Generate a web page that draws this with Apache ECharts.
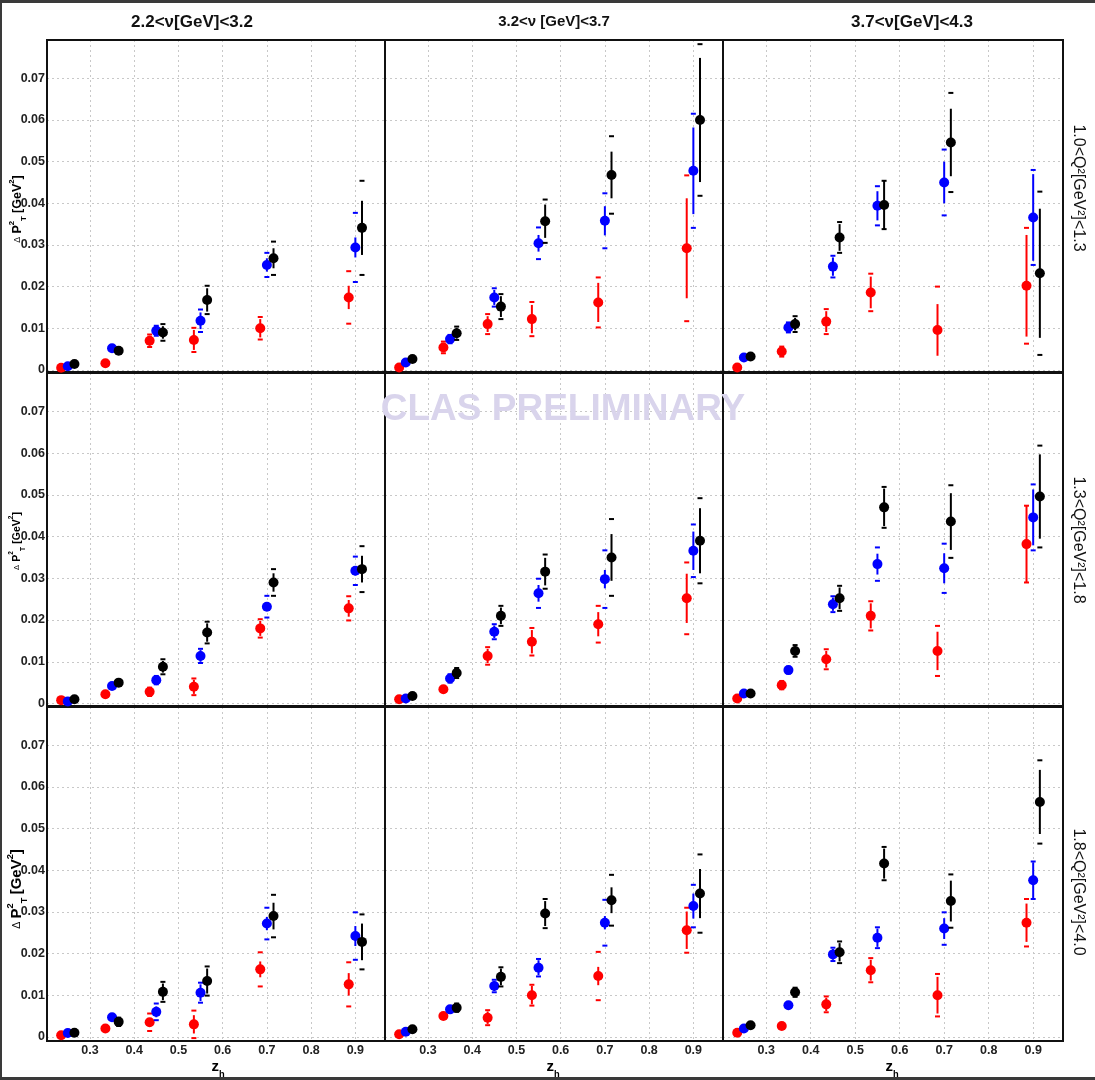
<!DOCTYPE html>
<html>
<head>
<meta charset="utf-8">
<title>CLAS pT broadening vs zh</title>
<script src="https://cdn.jsdelivr.net/npm/echarts@6/dist/echarts.min.js"></script>
<style>
  html, body { margin: 0; padding: 0; background: #fff; }
  #chart { width: 1095px; height: 1080px; }
</style>
</head>
<body>
<div id="chart"></div>
<script>
// bins and labels
const targets = ['C', 'Fe', 'Pb'];
const targetColors = ['#ff0000', '#0000ff', '#000000'];
const zBins = [0.25, 0.35, 0.45, 0.55, 0.70, 0.90];
const zShift = [-0.015, 0, 0.015];   // targets drawn side by side in each z bin
const nuLabels = ['2.2<ν[GeV]<3.2', '3.2<ν [GeV]<3.7', '3.7<ν[GeV]<4.3'];
const q2Labels = ['1.0<Q²[GeV²]<1.3', '1.3<Q²[GeV²]<1.8', '1.8<Q²[GeV²]<4.0'];
const xTicks = [0.3, 0.4, 0.5, 0.6, 0.7, 0.8, 0.9];
const yTicks = [0, 0.01, 0.02, 0.03, 0.04, 0.05, 0.06, 0.07];

// ΔPT² values, rows = [C, Fe, Pb], columns = zBins
// 1.0<Q2<1.3
const q1nu1 = [[0.0005, 0.0016, 0.0070, 0.0072, 0.0100, 0.0174], [0.0009, 0.0052, 0.0094, 0.0118, 0.0252, 0.0294], [0.0014, 0.0046, 0.0090, 0.0168, 0.0268, 0.0341]];
const q1nu1Stat = [[0.0003, 0.0005, 0.0012, 0.0024, 0.0022, 0.0028], [0.0003, 0.0005, 0.0010, 0.0020, 0.0016, 0.0024], [0.0003, 0.0006, 0.0015, 0.0028, 0.0024, 0.0065]];
const q1nu1Sys = [[0.0004, 0.0006, 0.0015, 0.0029, 0.0027, 0.0063], [0.0004, 0.0006, 0.0012, 0.0027, 0.0029, 0.0083], [0.0004, 0.0007, 0.0020, 0.0034, 0.0040, 0.0113]];

const q1nu2 = [[0.0006, 0.0054, 0.0110, 0.0122, 0.0162, 0.0292], [0.0018, 0.0074, 0.0174, 0.0304, 0.0358, 0.0478], [0.0026, 0.0088, 0.0152, 0.0357, 0.0468, 0.0600]];
const q1nu2Stat = [[0.0003, 0.0011, 0.0019, 0.0034, 0.0047, 0.0120], [0.0003, 0.0008, 0.0018, 0.0020, 0.0035, 0.0104], [0.0004, 0.0013, 0.0025, 0.0040, 0.0056, 0.0149]];
const q1nu2Sys = [[0.0004, 0.0014, 0.0024, 0.0041, 0.0060, 0.0175], [0.0004, 0.0010, 0.0022, 0.0038, 0.0066, 0.0137], [0.0005, 0.0016, 0.0030, 0.0052, 0.0093, 0.0182]];

const q1nu3 = [[0.0006, 0.0044, 0.0116, 0.0186, 0.0096, 0.0202], [0.0030, 0.0102, 0.0248, 0.0394, 0.0450, 0.0366], [0.0032, 0.0110, 0.0318, 0.0396, 0.0546, 0.0232]];
const q1nu3Stat = [[0.0003, 0.0010, 0.0025, 0.0038, 0.0062, 0.0122], [0.0003, 0.0010, 0.0022, 0.0035, 0.0050, 0.0104], [0.0004, 0.0015, 0.0032, 0.0058, 0.0081, 0.0155]];
const q1nu3Sys = [[0.0004, 0.0012, 0.0030, 0.0045, 0.0104, 0.0139], [0.0004, 0.0012, 0.0026, 0.0047, 0.0079, 0.0114], [0.0005, 0.0019, 0.0037, 0.0058, 0.0119, 0.0196]];

// 1.3<Q2<1.8
const q2nu1 = [[0.0008, 0.0022, 0.0028, 0.0040, 0.0180, 0.0228], [0.0005, 0.0042, 0.0056, 0.0114, 0.0232, 0.0318], [0.0010, 0.0050, 0.0088, 0.0170, 0.0290, 0.0322]];
const q2nu1Stat = [[0.0003, 0.0004, 0.0008, 0.0017, 0.0018, 0.0020], [0.0003, 0.0004, 0.0008, 0.0014, 0.0010, 0.0011], [0.0003, 0.0005, 0.0014, 0.0022, 0.0022, 0.0032]];
const q2nu1Sys = [[0.0004, 0.0005, 0.0010, 0.0020, 0.0022, 0.0029], [0.0004, 0.0005, 0.0010, 0.0017, 0.0026, 0.0034], [0.0004, 0.0006, 0.0018, 0.0026, 0.0032, 0.0055]];

const q2nu2 = [[0.0010, 0.0034, 0.0114, 0.0148, 0.0190, 0.0252], [0.0012, 0.0060, 0.0172, 0.0264, 0.0298, 0.0366], [0.0018, 0.0073, 0.0210, 0.0316, 0.0350, 0.0390]];
const q2nu2Stat = [[0.0003, 0.0005, 0.0017, 0.0028, 0.0029, 0.0059], [0.0003, 0.0008, 0.0015, 0.0020, 0.0022, 0.0046], [0.0003, 0.0010, 0.0020, 0.0033, 0.0056, 0.0078]];
const q2nu2Sys = [[0.0004, 0.0006, 0.0021, 0.0033, 0.0044, 0.0086], [0.0004, 0.0010, 0.0018, 0.0035, 0.0069, 0.0063], [0.0004, 0.0012, 0.0024, 0.0041, 0.0092, 0.0102]];

const q2nu3 = [[0.0012, 0.0044, 0.0106, 0.0210, 0.0126, 0.0382], [0.0024, 0.0080, 0.0238, 0.0334, 0.0324, 0.0446], [0.0024, 0.0126, 0.0252, 0.0470, 0.0436, 0.0496]];
const q2nu3Stat = [[0.0003, 0.0008, 0.0020, 0.0030, 0.0046, 0.0092], [0.0003, 0.0006, 0.0016, 0.0025, 0.0036, 0.0067], [0.0003, 0.0011, 0.0026, 0.0045, 0.0068, 0.0101]];
const q2nu3Sys = [[0.0004, 0.0010, 0.0024, 0.0035, 0.0060, 0.0092], [0.0004, 0.0008, 0.0019, 0.0040, 0.0059, 0.0079], [0.0004, 0.0014, 0.0030, 0.0049, 0.0087, 0.0122]];

// 1.8<Q2<4.0
const q3nu1 = [[0.0004, 0.0020, 0.0035, 0.0030, 0.0162, 0.0126], [0.0009, 0.0047, 0.0060, 0.0106, 0.0272, 0.0242], [0.0010, 0.0036, 0.0108, 0.0134, 0.0290, 0.0228]];
const q3nu1Stat = [[0.0003, 0.0004, 0.0010, 0.0022, 0.0019, 0.0027], [0.0003, 0.0004, 0.0013, 0.0020, 0.0016, 0.0024], [0.0003, 0.0008, 0.0020, 0.0030, 0.0032, 0.0044]];
const q3nu1Sys = [[0.0004, 0.0005, 0.0021, 0.0033, 0.0041, 0.0053], [0.0004, 0.0005, 0.0020, 0.0024, 0.0038, 0.0057], [0.0004, 0.0010, 0.0024, 0.0035, 0.0051, 0.0066]];

const q3nu2 = [[0.0006, 0.0050, 0.0046, 0.0100, 0.0146, 0.0256], [0.0012, 0.0066, 0.0122, 0.0166, 0.0274, 0.0314], [0.0018, 0.0070, 0.0144, 0.0296, 0.0328, 0.0344]];
const q3nu2Stat = [[0.0003, 0.0004, 0.0015, 0.0022, 0.0022, 0.0045], [0.0003, 0.0004, 0.0012, 0.0018, 0.0016, 0.0030], [0.0003, 0.0008, 0.0020, 0.0030, 0.0031, 0.0059]];
const q3nu2Sys = [[0.0004, 0.0005, 0.0018, 0.0025, 0.0058, 0.0054], [0.0004, 0.0005, 0.0015, 0.0021, 0.0055, 0.0051], [0.0004, 0.0010, 0.0023, 0.0035, 0.0061, 0.0094]];

const q3nu3 = [[0.0010, 0.0026, 0.0078, 0.0160, 0.0100, 0.0274], [0.0020, 0.0076, 0.0198, 0.0238, 0.0260, 0.0376], [0.0028, 0.0107, 0.0203, 0.0416, 0.0326, 0.0564]];
const q3nu3Stat = [[0.0003, 0.0004, 0.0016, 0.0025, 0.0044, 0.0046], [0.0003, 0.0004, 0.0013, 0.0022, 0.0025, 0.0043], [0.0003, 0.0009, 0.0022, 0.0036, 0.0049, 0.0077]];
const q3nu3Sys = [[0.0004, 0.0005, 0.0019, 0.0029, 0.0051, 0.0057], [0.0004, 0.0005, 0.0016, 0.0025, 0.0039, 0.0045], [0.0004, 0.0011, 0.0026, 0.0040, 0.0064, 0.0100]];

const panels = [
  [[q1nu1, q1nu1Stat, q1nu1Sys], [q1nu2, q1nu2Stat, q1nu2Sys], [q1nu3, q1nu3Stat, q1nu3Sys]],
  [[q2nu1, q2nu1Stat, q2nu1Sys], [q2nu2, q2nu2Stat, q2nu2Sys], [q2nu3, q2nu3Stat, q2nu3Sys]],
  [[q3nu1, q3nu1Stat, q3nu1Sys], [q3nu2, q3nu2Stat, q3nu2Sys], [q3nu3, q3nu3Stat, q3nu3Sys]]
];

// layout
const FONT = '"Liberation Sans", Arial, Helvetica, sans-serif';
const colLeft = [47, 385, 723];
const colWidth = [338, 338, 340];
const rowTop = [40, 373, 707];
const rowHeight = [332, 333, 334];
const rowYMin = [-0.0005, -0.0006, -0.001];

const chart = echarts.init(document.getElementById('chart'));

function near(v, list, scale) {
  const k = Math.round(v * scale);
  if (Math.abs(v * scale - k) > 1e-6) return null;
  return list.indexOf(k / scale) >= 0 ? k / scale : null;
}

// stat error as a line, systematic error as two short dashes, then the point
function renderPoint(params, api) {
  const x = api.value(0), y = api.value(1), st = api.value(2), sy = api.value(3);
  const cs = params.coordSys;
  const color = api.visual('color');
  const p = api.coord([x, y]);
  const top = cs.y, bot = cs.y + cs.height;
  const clampY = v => Math.max(top, Math.min(bot, v));
  const kids = [];
  kids.push({
    type: 'line',
    shape: { x1: p[0], y1: clampY(api.coord([x, y + st])[1]), x2: p[0], y2: clampY(api.coord([x, y - st])[1]) },
    style: { stroke: color, lineWidth: 2 }
  });
  [y + sy, y - sy].forEach(v => {
    const py = api.coord([x, v])[1];
    if (py >= top && py <= bot) {
      kids.push({ type: 'line', shape: { x1: p[0] - 2.5, y1: py, x2: p[0] + 2.5, y2: py }, style: { stroke: color, lineWidth: 2 } });
    }
  });
  kids.push({ type: 'circle', shape: { cx: p[0], cy: p[1], r: 5 }, style: { fill: color } });
  return { type: 'group', children: kids };
}

const grids = [], xAxes = [], yAxes = [], series = [], frames = [];
const gridLine = { show: true, lineStyle: { color: '#c8c8c8', type: [2, 3], width: 1 } };

for (let r = 0; r < 3; r++) {
  for (let c = 0; c < 3; c++) {
    const idx = r * 3 + c;
    grids.push({ left: colLeft[c], top: rowTop[r], width: colWidth[c], height: rowHeight[r] });
    frames.push({
      type: 'rect', z: 1,
      shape: { x: colLeft[c], y: rowTop[r], width: colWidth[c], height: rowHeight[r] },
      style: { fill: 'none', stroke: '#111', lineWidth: 2 }
    });
    xAxes.push({
      gridIndex: idx, type: 'value', min: 0.203, max: 0.967,
      splitNumber: 8, minInterval: 0.1, maxInterval: 0.1,
      axisLine: { show: false }, axisTick: { show: false }, splitLine: gridLine,
      axisLabel: {
        show: r === 2, margin: 3, fontSize: 12.5, fontWeight: 'bold', color: '#222', fontFamily: FONT,
        showMinLabel: false, showMaxLabel: false,
        formatter: v => { const t = near(v, xTicks, 10); return t === null ? '' : t.toFixed(1); }
      }
    });
    yAxes.push({
      gridIndex: idx, type: 'value', min: rowYMin[r], max: 0.0792,
      splitNumber: 8, minInterval: 0.01, maxInterval: 0.01,
      axisLine: { show: false }, axisTick: { show: false }, splitLine: gridLine,
      axisLabel: {
        show: c === 0, margin: 2, fontSize: 12.5, fontWeight: 'bold', color: '#222', fontFamily: FONT,
        showMinLabel: false, showMaxLabel: false,
        formatter: v => { const t = near(v, yTicks, 100); return t === null ? '' : (t === 0 ? '0' : t.toFixed(2)); }
      }
    });
    const [vals, stat, sys] = panels[r][c];
    targets.forEach((name, t) => {
      series.push({
        type: 'custom', name: name,
        xAxisIndex: idx, yAxisIndex: idx,
        itemStyle: { color: targetColors[t] },
        encode: { x: 0, y: 1 },
        renderItem: renderPoint,
        data: zBins.map((z, i) => [z + zShift[t], vals[t][i], stat[t][i], sys[t][i]])
      });
    });
  }
}

// texts and frames
const graphic = frames.slice();
const border = '#3a3a3a';
graphic.push({ type: 'rect', shape: { x: 0, y: 0, width: 1095, height: 3 }, style: { fill: border } });
graphic.push({ type: 'rect', shape: { x: 0, y: 0, width: 2, height: 1080 }, style: { fill: border } });
graphic.push({ type: 'rect', shape: { x: 0, y: 1077, width: 1095, height: 3 }, style: { fill: border } });

graphic.push({
  type: 'text', x: 563, y: 410, z: 1,
  style: { text: 'CLAS PRELIMINARY', fill: '#d9d4ec', font: 'bold 37px ' + FONT, align: 'center', verticalAlign: 'middle' }
});

const colTitlePos = [[192, 22, 17], [554, 22, 15], [912, 22, 17]];
nuLabels.forEach((txt, c) => {
  graphic.push({
    type: 'text', x: colTitlePos[c][0], y: colTitlePos[c][1],
    style: { text: txt, fill: '#111', font: 'bold ' + colTitlePos[c][2] + 'px ' + FONT, align: 'center', verticalAlign: 'middle' }
  });
});

const rowLabelY = [188, 540, 892];
q2Labels.forEach((txt, r) => {
  graphic.push({
    type: 'text', x: 1078, y: rowLabelY[r], rotation: -Math.PI / 2,
    style: { text: txt, fill: '#111', font: '16px ' + FONT, align: 'center', verticalAlign: 'middle' }
  });
});

function richLabel(size) {
  return {
    base: { fontSize: size, fontWeight: 'bold', fontFamily: FONT, color: '#111', lineHeight: size + 8 },
    d: { fontSize: size * 0.7, fontFamily: FONT, color: '#111', lineHeight: size + 8 },
    sup: { fontSize: size * 0.62, fontWeight: 'bold', fontFamily: FONT, color: '#111', lineHeight: size * 0.8, verticalAlign: 'top' },
    sub: { fontSize: size * 0.62, fontWeight: 'bold', fontFamily: FONT, color: '#111', lineHeight: size * 0.8, verticalAlign: 'bottom' }
  };
}

const yTitlePos = [[18, 209, 12.5], [17, 541, 10.5], [17, 889, 15]];
yTitlePos.forEach(([x, y, s]) => {
  graphic.push({
    type: 'text', x: x, y: y, rotation: Math.PI / 2,
    style: {
      text: '{d|Δ} {base|P}{sup|2}{sub|T} {base|[GeV}{sup|2}{base|]}',
      rich: richLabel(s), align: 'center', verticalAlign: 'middle'
    }
  });
});

const xTitleX = [218, 553, 892];
xTitleX.forEach(x => {
  graphic.push({
    type: 'text', x: x, y: 1067,
    style: { text: '{base|z}{sub|h}', rich: richLabel(15), align: 'center', verticalAlign: 'middle' }
  });
});

chart.setOption({
  backgroundColor: '#ffffff',
  animation: false,
  grid: grids,
  xAxis: xAxes,
  yAxis: yAxes,
  graphic: graphic,
  series: series
});
</script>
</body>
</html>
